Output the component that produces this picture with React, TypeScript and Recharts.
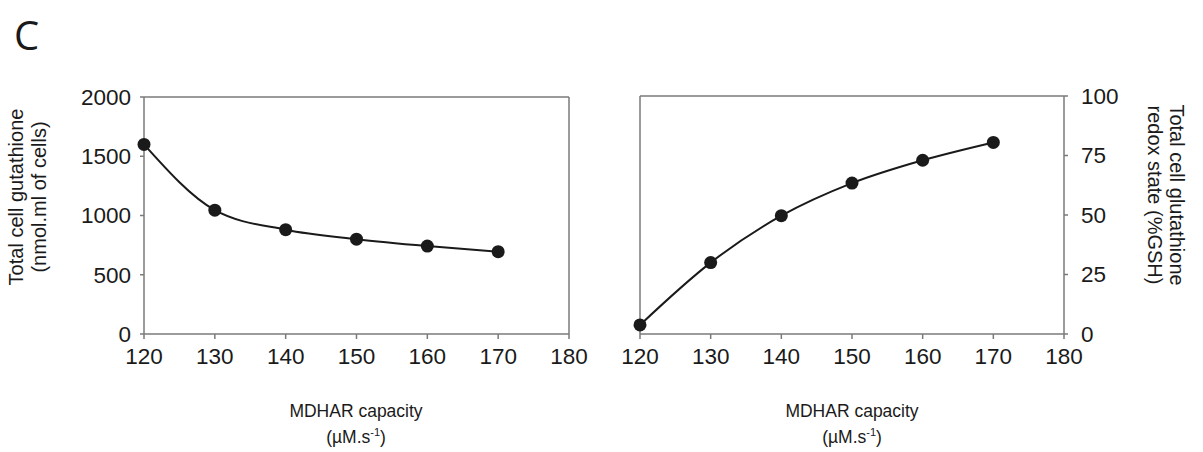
import { LineChart, Line, XAxis, YAxis, ReferenceLine } from "recharts"

// MDHAR capacity (µM.s-1)
const capacity = [120, 130, 140, 150, 160, 170]
// total cell glutathione (nmol.ml of cells)
const totalGlutathione = [1600, 1045, 880, 800, 742, 695]
// redox state (%GSH)
const redoxState = [3.8, 30, 49.7, 63.4, 73, 80.5]

const xTicks = [120, 130, 140, 150, 160, 170, 180]
const leftTicks = [0, 500, 1000, 1500, 2000]
const rightTicks = [0, 25, 50, 75, 100]

const FONT = "'Liberation Sans', Arial, sans-serif"
const AXIS = "#7a7a7a"
const INK = "#1a1a1a"

const leftData = capacity.map((c, i) => ({ x: c, y: totalGlutathione[i] }))
const rightData = capacity.map((c, i) => ({ x: c, y: redoxState[i] }))

const tickStyle = { fill: INK, fontSize: 22.5, fontFamily: FONT }

function Dot(props: any) {
    const { cx, cy } = props
    return <circle cx={cx} cy={cy} r={6.5} fill={INK} />
}

export default function App() {
    return (
        <div style={{ position: "absolute", left: 0, top: 0, width: 1203, height: 452, background: "#fff" }}>

            {/* left panel */}
            <div style={{ position: "absolute", left: 0, top: 0 }}>
                <LineChart width={600} height={452} data={leftData} margin={{ top: 97, right: 31, bottom: 0, left: 0 }}>
                    <XAxis
                        dataKey="x"
                        type="number"
                        domain={[120, 180]}
                        ticks={xTicks}
                        height={118}
                        tickSize={5}
                        tickMargin={9}
                        stroke={AXIS}
                        strokeWidth={1.5}
                        tick={tickStyle}
                    />
                    <YAxis
                        type="number"
                        domain={[0, 2000]}
                        ticks={leftTicks}
                        width={144}
                        tickSize={4}
                        tickMargin={9}
                        stroke={AXIS}
                        strokeWidth={1.5}
                        tick={tickStyle}
                    />
                    <ReferenceLine y={2000} stroke={AXIS} strokeWidth={1.5} />
                    <ReferenceLine x={180} stroke={AXIS} strokeWidth={1.5} />
                    <Line
                        type="monotone"
                        dataKey="y"
                        stroke={INK}
                        strokeWidth={2}
                        dot={<Dot />}
                        isAnimationActive={false}
                    />
                </LineChart>
            </div>

            {/* right panel */}
            <div style={{ position: "absolute", left: 600, top: 0 }}>
                <LineChart width={603} height={452} data={rightData} margin={{ top: 96, right: 0, bottom: 0, left: 40 }}>
                    <XAxis
                        dataKey="x"
                        type="number"
                        domain={[120, 180]}
                        ticks={xTicks}
                        height={118}
                        tickSize={5}
                        tickMargin={9}
                        stroke={AXIS}
                        strokeWidth={1.5}
                        tick={tickStyle}
                    />
                    <YAxis
                        orientation="right"
                        type="number"
                        domain={[0, 100]}
                        ticks={rightTicks}
                        width={139}
                        tickSize={4}
                        tickMargin={13}
                        stroke={AXIS}
                        strokeWidth={1.5}
                        tick={tickStyle}
                    />
                    <ReferenceLine y={100} stroke={AXIS} strokeWidth={1.5} />
                    <ReferenceLine x={120} stroke={AXIS} strokeWidth={1.5} />
                    <Line
                        type="monotone"
                        dataKey="y"
                        stroke={INK}
                        strokeWidth={2}
                        dot={<Dot />}
                        isAnimationActive={false}
                    />
                </LineChart>
            </div>

            {/* titles */}
            <svg width={1203} height={452} style={{ position: "absolute", left: 0, top: 0, pointerEvents: "none" }}>
                <text x={14} y={50} fontSize={40} fontFamily="'Open Sans', sans-serif" fill={INK}>C</text>

                <g fontFamily={FONT} fill={INK} textAnchor="middle">
                    <g fontSize={20}>
                        <text transform="translate(23,197) rotate(-90)">Total cell gutathione</text>
                        <text transform="translate(46,197) rotate(-90)">(nmol.ml of cells)</text>

                        <text transform="translate(1170,195) rotate(90)">Total cell glutathione</text>
                        <text transform="translate(1148,195) rotate(90)">redox state (%GSH)</text>
                    </g>

                    <g fontSize={17.5}>
                        <text x={356} y={417}>MDHAR capacity</text>
                        <text x={356} y={443}>(µM.s<tspan fontSize={11} dy={-7}>-1</tspan><tspan dy={7}>)</tspan></text>

                        <text x={852} y={417}>MDHAR capacity</text>
                        <text x={852} y={443}>(µM.s<tspan fontSize={11} dy={-7}>-1</tspan><tspan dy={7}>)</tspan></text>
                    </g>
                </g>
            </svg>
        </div>
    )
}
